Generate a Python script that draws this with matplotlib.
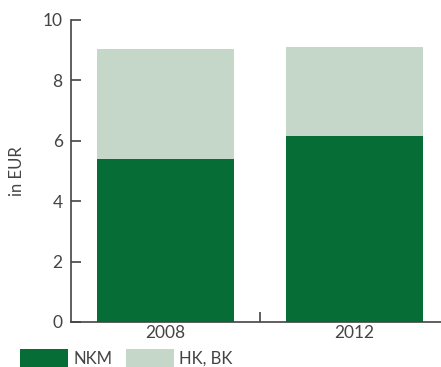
import numpy as np
import matplotlib.pyplot as plt

years = ['2008', '2012']
nkm = [5.40, 6.16]
hk_bk = [3.64, 2.95]

dark = '#066d37'
light = '#c4d7c8'
txt = '#444444'

plt.rcParams['font.family'] = ['Lato', 'DejaVu Sans']

W, H = 441, 367
fig = plt.figure(figsize=(W / 100, H / 100), dpi=100)
ax = fig.add_axes([71 / W, 1 - 322 / H, (441 - 71) / W, (322 - 20) / H])

x = np.arange(len(years))
ax.bar(x, nkm, width=0.72, color=dark, label='NKM')
ax.bar(x, hk_bk, width=0.72, bottom=nkm, color=light, label='HK, BK')

ax.set_xlim(-0.5, -0.5 + (441 - 71) / 189)
ax.set_ylim(0, 10)
ax.set_yticks([0, 2, 4, 6, 8, 10])
ax.set_xticks(x)
ax.set_xticklabels(years)
ax.set_xticks([0.5], minor=True)

for s in ['top', 'right']:
    ax.spines[s].set_visible(False)
for s in ['left', 'bottom']:
    ax.spines[s].set_color('#444444')
    ax.spines[s].set_linewidth(1.2)

ax.tick_params(axis='y', direction='in', length=7, width=1.2, color='#444444',
               labelsize=12.5, labelcolor=txt, pad=6)
ax.tick_params(axis='x', which='major', length=0, labelsize=12.5, labelcolor=txt, pad=2)
ax.tick_params(axis='x', which='minor', direction='in', length=7, width=1.2, color='#444444')

ax.set_ylabel('in EUR', fontsize=12, color=txt, labelpad=13)

fig.legend(loc='upper left', bbox_to_anchor=(20 / W, 1 - 349 / H), ncol=2, frameon=False,
           fontsize=12, labelcolor=txt, borderpad=0, borderaxespad=0,
           handlelength=2.9, handleheight=1.3, handletextpad=0.3, columnspacing=0.8)

fig.savefig('out.png', dpi=100)
